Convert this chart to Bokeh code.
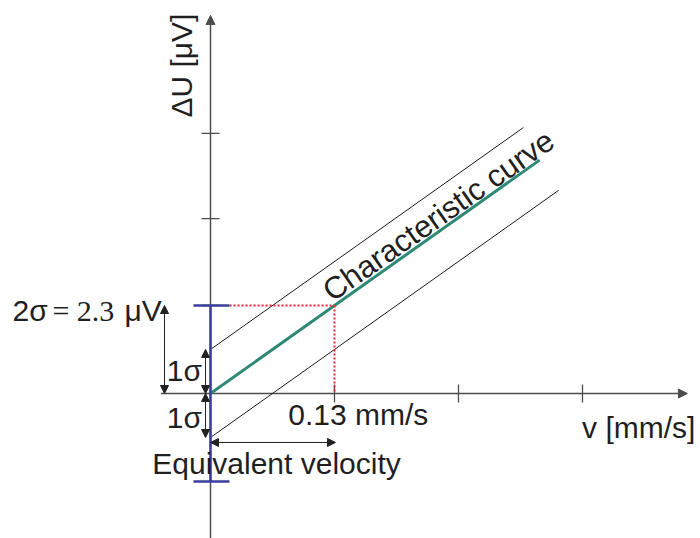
from bokeh.plotting import figure
from bokeh.models import Arrow, NormalHead
from bokeh.core.properties import value
from bokeh.embed import file_html
from bokeh.resources import INLINE
import math

# ---- data (v in mm/s, U in μV) ----
sigma = 1.15
two_sigma = 2.3
v_equiv = 0.13

curve_v = [0.0, 0.345]
curve_u = [0.0, 6.10]
upper_v = [0.0, 0.328]
upper_u = [1.15, 6.95]
lower_v = [0.0, 0.365]
lower_u = [-1.15, 5.31]

x_ticks = [0.13, 0.26, 0.39]
y_ticks = [2.3, 4.57, 6.8]

x_axis_v = [-0.052, 0.500]
y_axis_u = [-3.8, 9.88]

label_2sigma_a = "2σ"
label_2sigma_b = "= 2.3"
label_2sigma_c = "μV"
label_1sigma = "1σ"
label_v0 = "0.13 mm/s"
label_eq = "Equivalent velocity"
label_curve = "Characteristic curve"
label_x = "v [mm/s]"
label_y = "ΔU [μV]"

# ---- figure: page pixel mapping ----
W, H = 700, 538
px_per_v = 124 / 0.13
px_per_u = 88 / 2.3
x0 = -210 / px_per_v
x1 = x0 + W / px_per_v
y1 = 393 / px_per_u
y0 = y1 - H / px_per_u

p = figure(width=W, height=H, x_range=(x0, x1), y_range=(y0, y1),
           output_backend="svg", toolbar_location=None, min_border=0)
p.axis.visible = False
p.grid.visible = False
p.outline_line_color = None
p.background_fill_color = "white"
p.border_fill_color = "white"

AX = "#4d4d4d"
TXT = "#1f1f1f"
GREEN = "#2e8a74"
BLUE = "#3a3d9c"
RED = "#e8262b"
FONT = value("Liberation Sans")
SERIF = value("Liberation Serif")

# axes with arrows (drawn beneath the glyphs)
p.add_layout(Arrow(end=NormalHead(size=9, fill_color=AX, line_color=AX),
                   x_start=x_axis_v[0], y_start=0, x_end=x_axis_v[1], y_end=0,
                   line_color=AX, line_width=1.5, level="underlay"))
p.add_layout(Arrow(end=NormalHead(size=9, fill_color=AX, line_color=AX),
                   x_start=0, y_start=y_axis_u[0], x_end=0, y_end=y_axis_u[1],
                   line_color=AX, line_width=1.5, level="underlay"))

# ticks
p.scatter(x_ticks, [0] * len(x_ticks), marker="dash", angle=math.pi / 2,
          size=18, line_color=AX, line_width=1.3)
p.scatter([0] * len(y_ticks), y_ticks, marker="dash", size=18,
          line_color=AX, line_width=1.3)

# band lines and characteristic curve
p.line(upper_v, upper_u, line_color="#1a1a1a", line_width=1)
p.line(lower_v, lower_u, line_color="#1a1a1a", line_width=1)
p.line(curve_v, curve_u, line_color=GREEN, line_width=3)

# red dotted guides
p.line([0.02, v_equiv], [two_sigma, two_sigma], line_color=RED, line_width=2, line_dash="2 2")
p.line([v_equiv, v_equiv], [two_sigma, 0], line_color=RED, line_width=2, line_dash="2 2")

# blue 2σ interval on the y axis
p.line([0, 0], [two_sigma, -two_sigma], line_color=BLUE, line_width=2.5)
p.scatter([0.001, 0.001], [two_sigma, -two_sigma], marker="dash", size=36,
          line_color=BLUE, line_width=2.5)

# dimension arrows
def dim_arrow(xs, ys, xe, ye):
    p.add_layout(Arrow(start=NormalHead(size=8, fill_color="#222", line_color="#222"),
                       end=NormalHead(size=8, fill_color="#222", line_color="#222"),
                       x_start=xs, y_start=ys, x_end=xe, y_end=ye,
                       line_color="#222", line_width=1))

dim_arrow(-0.0482, two_sigma, -0.0482, 0)
dim_arrow(-0.0052, sigma, -0.0052, 0)
dim_arrow(-0.0052, 0, -0.0052, -sigma)
dim_arrow(0, -1.28, 0.131, -1.28)

# texts
def txt(x, y, s, align="center", angle=0.0, size="30px", font=FONT):
    p.text([x], [y], text=[s], text_align=align, text_baseline="middle",
           angle=angle, text_font=font, text_font_size=size, text_color=TXT)

txt(-0.0304, 8.57, label_y, angle=math.pi / 2)
txt(0.239, 4.65, label_curve, angle=math.atan(231 / 331), size="31px")
txt(0.155, -0.55, label_v0)
txt(0.449, -0.89, label_x)
txt(0.0692, -1.83, label_eq)
txt(-0.0273, 0.60, label_1sigma)
txt(-0.0273, -0.63, label_1sigma)
txt(-0.2076, 2.17, label_2sigma_a, align="left")
txt(-0.1657, 2.17, label_2sigma_b, align="left", font=SERIF)
txt(-0.0902, 2.17, label_2sigma_c, align="left")

open("out.html", "w").write(file_html(p, INLINE))
